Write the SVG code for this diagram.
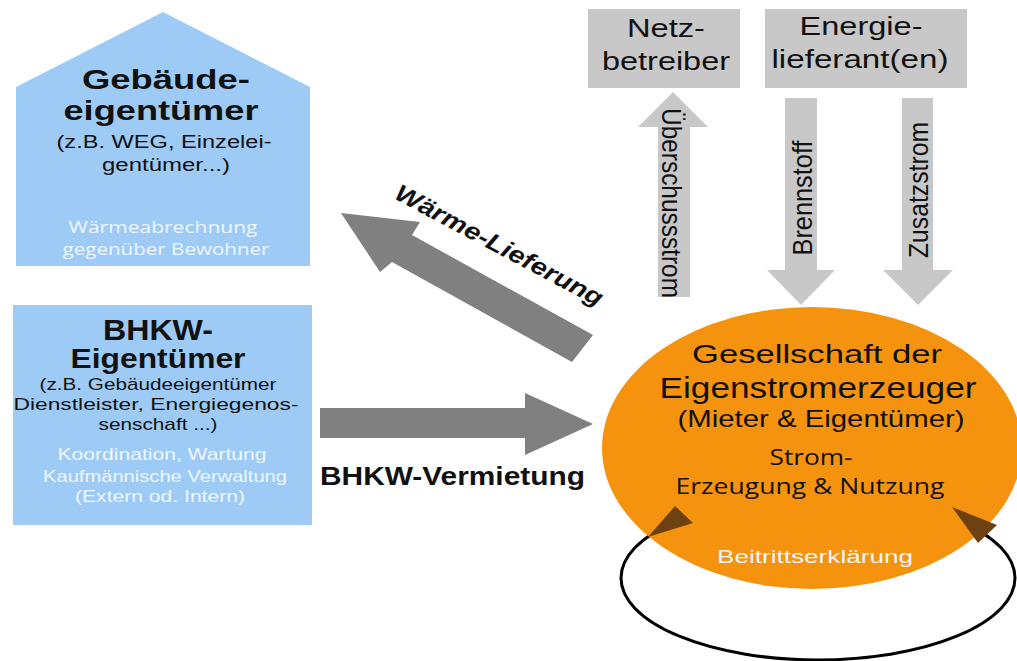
<svg xmlns="http://www.w3.org/2000/svg" width="1017" height="661" viewBox="0 0 1017 661">
<style>
.t{font-family:"Liberation Sans",Arial,sans-serif;fill:#111;}
.b{font-weight:bold;}
.w{fill:#eef6ff;}
.os{font-family:"Open Sans","Liberation Sans",sans-serif;}
.blue{fill:#9ecbf6;}
.lg{fill:#c8c8c8;}
.dg{fill:#808080;}
.mid{text-anchor:middle;}
</style>
<rect width="1017" height="661" fill="#ffffff"/>

<g id="gebaeude-eigentuemer">
<polygon class="blue" points="16,87 163,12 310,87 310,266 16,266"/>
<text class="t b mid" x="166" y="89" font-size="28" textLength="168" lengthAdjust="spacingAndGlyphs">Gebäude-</text>
<text class="t b mid" x="161" y="120" font-size="28" textLength="195" lengthAdjust="spacingAndGlyphs">eigentümer</text>
<text class="t mid" x="164" y="148" font-size="18" textLength="215" lengthAdjust="spacingAndGlyphs">(z.B. WEG, Einzelei-</text>
<text class="t mid" x="166" y="171" font-size="18" textLength="128" lengthAdjust="spacingAndGlyphs">gentümer...)</text>
<text class="t os w mid" x="163" y="233" font-size="17" textLength="189" lengthAdjust="spacingAndGlyphs">Wärmeabrechnung</text>
<text class="t os w mid" x="166" y="255" font-size="17" textLength="207" lengthAdjust="spacingAndGlyphs">gegenüber Bewohner</text>
</g>

<g id="bhkw-eigentuemer">
<rect class="blue" x="13" y="305" width="299" height="220"/>
<text class="t b mid" x="158" y="340" font-size="29" textLength="110" lengthAdjust="spacingAndGlyphs">BHKW-</text>
<text class="t b mid" x="158" y="368" font-size="27" textLength="175" lengthAdjust="spacingAndGlyphs">Eigentümer</text>
<text class="t mid" x="158" y="390" font-size="17" textLength="237" lengthAdjust="spacingAndGlyphs">(z.B. Gebäudeeigentümer</text>
<text class="t mid" x="156" y="410" font-size="17" textLength="285" lengthAdjust="spacingAndGlyphs">Dienstleister, Energiegenos-</text>
<text class="t mid" x="158" y="430" font-size="17" textLength="119" lengthAdjust="spacingAndGlyphs">senschaft ...)</text>
<text class="t w mid" x="162" y="460" font-size="17" textLength="209" lengthAdjust="spacingAndGlyphs">Koordination, Wartung</text>
<text class="t w mid" x="165" y="482" font-size="17" textLength="244" lengthAdjust="spacingAndGlyphs">Kaufmännische Verwaltung</text>
<text class="t w mid" x="160" y="502" font-size="17" textLength="170" lengthAdjust="spacingAndGlyphs">(Extern od. Intern)</text>
</g>

<g id="netzbetreiber">
<rect class="lg" x="588" y="9" width="152" height="79"/>
<text class="t mid" x="666" y="37" font-size="26" textLength="78" lengthAdjust="spacingAndGlyphs">Netz-</text>
<text class="t mid" x="666" y="70" font-size="26" textLength="128" lengthAdjust="spacingAndGlyphs">betreiber</text>
</g>

<g id="energielieferant">
<rect class="lg" x="765" y="9" width="202" height="79"/>
<text class="t mid" x="861" y="35" font-size="26" textLength="123" lengthAdjust="spacingAndGlyphs">Energie-</text>
<text class="t mid" x="860" y="68" font-size="26" textLength="177" lengthAdjust="spacingAndGlyphs">lieferant(en)</text>
</g>

<g id="gesellschaft">
<ellipse cx="818" cy="578" rx="197" ry="82" fill="none" stroke="#000" stroke-width="3"/>
<ellipse cx="812" cy="448" rx="210" ry="141" fill="#f5930f"/>
<text class="t mid" x="817" y="363" font-size="25" textLength="250" lengthAdjust="spacingAndGlyphs">Gesellschaft der</text>
<text class="t mid" x="818" y="398" font-size="29" textLength="317" lengthAdjust="spacingAndGlyphs">Eigenstromerzeuger</text>
<text class="t mid" x="821" y="427" font-size="24" textLength="287" lengthAdjust="spacingAndGlyphs">(Mieter &amp; Eigentümer)</text>
<text class="t os mid" x="811" y="465" font-size="21" textLength="83" lengthAdjust="spacingAndGlyphs">Strom-</text>
<text class="t os mid" x="810" y="494" font-size="22" textLength="269" lengthAdjust="spacingAndGlyphs">Erzeugung &amp; Nutzung</text>
<text class="t w mid" x="815" y="563" font-size="19" textLength="196" lengthAdjust="spacingAndGlyphs">Beitrittserklärung</text>
<polygon fill="#6e4210" points="648,537 675,506 693,523"/>
<polygon fill="#6e4210" points="952,507 997,525 978,543"/>
</g>

<g id="connectors">
<polygon class="dg" points="341,213 420,222 412,235 593,335 572,362 392,262 380,272"/>
<text class="t b" font-style="italic" font-size="24" textLength="232" lengthAdjust="spacingAndGlyphs" transform="translate(393,198) rotate(28)">Wärme-Lieferung</text>
<polygon class="dg" points="320,408 525,408 525,393 593,424 525,455 525,438 320,438"/>
<text class="t b" x="320" y="485" font-size="25" textLength="265" lengthAdjust="spacingAndGlyphs">BHKW-Vermietung</text>
<polygon class="lg" points="658,297 690,297 690,127 708,127 673,92 638,127 658,127"/>
<text class="t mid" font-size="24" textLength="190" lengthAdjust="spacingAndGlyphs" transform="translate(662,203) rotate(90) scale(1,1.12)">Überschussstrom</text>
<polygon class="lg" points="785,98 817,98 817,270 835,270 801,305 767,270 785,270"/>
<text class="t mid" font-size="24" textLength="115" lengthAdjust="spacingAndGlyphs" transform="translate(812,198) rotate(-90) scale(1,1.15)">Brennstoff</text>
<polygon class="lg" points="902,98 933,98 933,270 953,270 918,305 883,270 902,270"/>
<text class="t mid" font-size="24" textLength="136" lengthAdjust="spacingAndGlyphs" transform="translate(928,190) rotate(-90) scale(1,1.15)">Zusatzstrom</text>
</g>
</svg>
